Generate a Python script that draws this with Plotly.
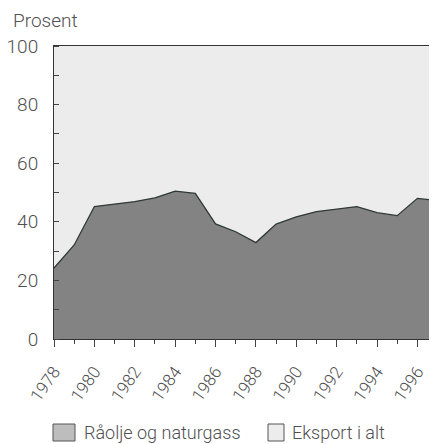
import plotly.graph_objects as go

years = list(range(1978, 1998))
oil_gas = [24.2, 32.1, 45.2, 46.0, 46.9, 48.2, 50.5, 49.7, 39.3, 36.6,
           32.9, 39.2, 41.7, 43.5, 44.4, 45.2, 43.1, 42.1, 48.0, 47.2]
total = [100] * len(years)
ytick_vals = [0, 20, 40, 60, 80, 100]
xtick_vals = list(range(1978, 1998, 2))

FONT = "Roboto, Liberation Sans, Arial, sans-serif"
TXT = "#505050"
WT = 300

# page body has an 8px default margin; compensate
OFF = 8
W, H = 437 - OFF, 444 - OFF
L, T = 54 - OFF, 46 - OFF
PW, PH = 437 - 54, 293

fig = go.Figure()
fig.add_trace(go.Scatter(x=years, y=total, name="Eksport i alt", mode="lines",
                         line=dict(width=0, color="#ececec"), fill="tozeroy",
                         fillcolor="#ececec", showlegend=False))
fig.add_trace(go.Scatter(x=years, y=oil_gas, name="Råolje og naturgass", mode="lines",
                         line=dict(width=1.3, color="#2e3a35"), fill="tozeroy",
                         fillcolor="#838383", showlegend=False))

fig.update_layout(
    width=W, height=H,
    margin=dict(l=L, r=0, t=T, b=H - T - PH),
    paper_bgcolor="white", plot_bgcolor="white",
    font=dict(family=FONT, color=TXT, size=17, weight=WT),
    xaxis=dict(range=[1978, 1996.97], tickmode="array", tickvals=xtick_vals,
               ticktext=[str(v) for v in xtick_vals], tickangle=-55,
               ticks="outside", ticklen=7, tickcolor="#444", tickwidth=1,
               minor=dict(dtick=1, ticks="outside", ticklen=4, tickcolor="#444"),
               showline=True, linecolor="#333", linewidth=1, mirror=True,
               showgrid=False, zeroline=False, ticklabelstandoff=8,
               tickfont=dict(size=17, color=TXT, weight=WT)),
    yaxis=dict(range=[0, 100], tickmode="array", tickvals=ytick_vals,
               ticks="", minor=dict(dtick=10, ticks="inside", ticklen=5, tickcolor="#444"),
               showline=True, linecolor="#333", linewidth=1,
               showgrid=False, zeroline=False, ticklabelstandoff=11,
               tickfont=dict(size=19, color=TXT, weight=WT)),
)

def px_x(p):
    return (p - 54) / PW
def px_y(p):
    return (339 - p) / PH

fig.add_annotation(text="Prosent", xref="paper", yref="paper",
                   x=px_x(11), y=px_y(20), xanchor="left", yanchor="middle",
                   showarrow=False, font=dict(size=19, color=TXT, weight=WT))

# manual legend
legend = [("Råolje og naturgass", "#bdbdbd", 53, 75, 82),
          ("Eksport i alt", "#ececec", 268, 284, 290)]
for label, col, x0, x1, tx in legend:
    fig.add_shape(type="rect", xref="paper", yref="paper",
                  x0=px_x(x0), x1=px_x(x1), y0=px_y(441), y1=px_y(424),
                  fillcolor=col, line=dict(color="#555", width=1))
    fig.add_annotation(text=label, xref="paper", yref="paper",
                       x=px_x(tx), y=px_y(432), xanchor="left", yanchor="middle",
                       showarrow=False, font=dict(size=18, color=TXT, weight=WT))

fig.write_html("out.html")
